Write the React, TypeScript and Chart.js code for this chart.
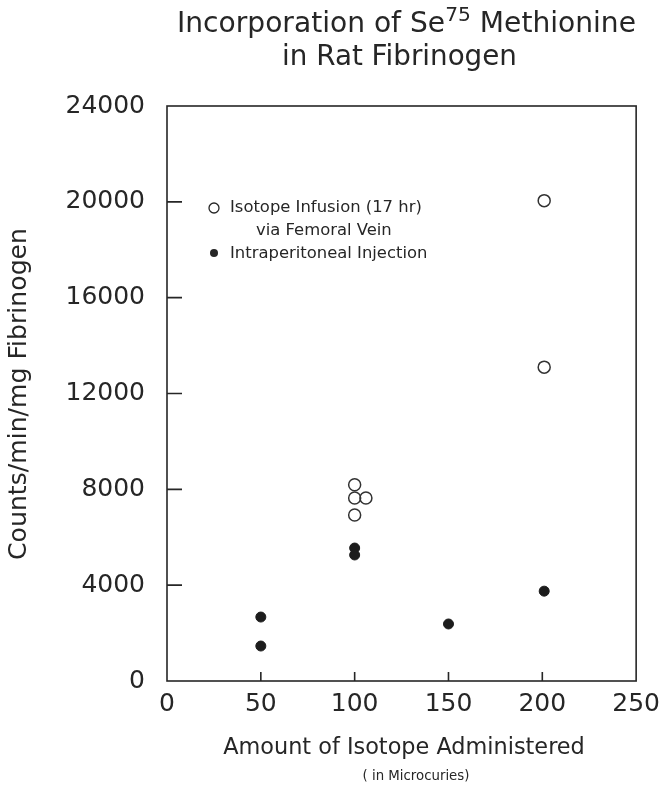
import React, { useEffect, useRef } from 'react';
import { Chart, registerables } from 'chart.js';

Chart.register(...registerables);

// ---- data ----
const infusionX = [100, 100, 106, 100, 201, 201];
const infusionY = [8190, 7640, 7640, 6930, 20050, 13100];
const injectionX = [50, 50, 100, 100, 150, 201];
const injectionY = [2670, 1460, 5550, 5260, 2380, 3750];
const xTicks = [0, 50, 100, 150, 200, 250];
const yTicks = [0, 4000, 8000, 12000, 16000, 20000, 24000];
const yTickLabels = ['0', '4000', '8000', '12000', '16000', '20000', '24000'];
const titleLine1 = ['Incorporation of Se', '75', ' Methionine'];
const titleLine2 = 'in Rat Fibrinogen';
const legendInfusion = ['Isotope Infusion (17 hr)', 'via Femoral Vein'];
const legendInjection = 'Intraperitoneal Injection';
const yTitle = 'Counts/min/mg Fibrinogen';
const xTitle = 'Amount of Isotope Administered';
const xSubTitle = '( in Microcuries)';

const FONT = '"DejaVu Sans", sans-serif';
const INK = '#262626';

function fitSize(ctx: CanvasRenderingContext2D, text: string, target: number) {
  ctx.font = `100px ${FONT}`;
  return (100 * target) / ctx.measureText(text).width;
}

const decor = {
  id: 'decor',
  afterDraw(chart: any) {
    const ctx: CanvasRenderingContext2D = chart.ctx;
    const { left, right, top, bottom } = chart.chartArea;
    const xs = chart.scales.x;
    const ys = chart.scales.y;
    ctx.save();
    ctx.strokeStyle = INK;
    ctx.fillStyle = INK;
    ctx.lineWidth = 1.6;
    ctx.strokeRect(left, top, right - left, bottom - top);
    ctx.beginPath();
    yTicks.slice(1, -1).forEach((v) => {
      const y = ys.getPixelForValue(v);
      ctx.moveTo(left, y);
      ctx.lineTo(left + 15, y);
    });
    xTicks.slice(1, -1).forEach((v) => {
      const x = xs.getPixelForValue(v);
      ctx.moveTo(x, bottom);
      ctx.lineTo(x, bottom - 9);
    });
    ctx.stroke();

    // title
    ctx.textBaseline = 'alphabetic';
    ctx.textAlign = 'left';
    ctx.font = `100px ${FONT}`;
    const w0 = ctx.measureText(titleLine1[0]).width;
    const w1 = ctx.measureText(titleLine1[1]).width * 0.72;
    const w2 = ctx.measureText(titleLine1[2]).width;
    const s1 = (100 * 459) / (w0 + w1 + w2);
    let x = 406.5 - 459 / 2;
    ctx.font = `${s1}px ${FONT}`;
    ctx.fillText(titleLine1[0], x, 32);
    x += (w0 * s1) / 100;
    ctx.font = `${s1 * 0.72}px ${FONT}`;
    ctx.fillText(titleLine1[1], x, 21);
    x += (w1 * s1) / 100;
    ctx.font = `${s1}px ${FONT}`;
    ctx.fillText(titleLine1[2], x, 32);
    const s2 = fitSize(ctx, titleLine2, 235);
    ctx.font = `${s2}px ${FONT}`;
    ctx.textAlign = 'center';
    ctx.fillText(titleLine2, 399.5, 65);

    // legend
    ctx.lineWidth = 1.3;
    ctx.beginPath();
    ctx.arc(214, 208, 5, 0, Math.PI * 2);
    ctx.stroke();
    ctx.beginPath();
    ctx.arc(214, 253, 4, 0, Math.PI * 2);
    ctx.fill();
    ctx.textAlign = 'left';
    ctx.textBaseline = 'middle';
    const ls = fitSize(ctx, legendInfusion[0], 192);
    ctx.font = `${ls}px ${FONT}`;
    ctx.fillText(legendInfusion[0], 230, 208);
    ctx.fillText(legendInfusion[1], 256, 231);
    ctx.fillText(legendInjection, 230, 254);

    // axis titles
    const ys1 = fitSize(ctx, yTitle, 332);
    ctx.font = `${ys1}px ${FONT}`;
    ctx.save();
    ctx.translate(19, 394);
    ctx.rotate(-Math.PI / 2);
    ctx.textAlign = 'center';
    ctx.fillText(yTitle, 0, 0);
    ctx.restore();
    ctx.textAlign = 'center';
    const xs1 = fitSize(ctx, xTitle, 362);
    ctx.font = `${xs1}px ${FONT}`;
    ctx.fillText(xTitle, 404, 748);
    const xs2 = fitSize(ctx, xSubTitle, 107);
    ctx.font = `${xs2}px ${FONT}`;
    ctx.fillText(xSubTitle, 416, 777);
    ctx.restore();
  },
};

export default function App() {
  const ref = useRef<HTMLCanvasElement>(null);
  useEffect(() => {
    if (!ref.current) return;
    const chart = new Chart(ref.current, {
      type: 'scatter',
      data: {
        datasets: [
          {
            label: legendInfusion.join(' '),
            data: infusionX.map((x, i) => ({ x, y: infusionY[i] })),
            pointStyle: 'circle',
            pointRadius: 6,
            pointBorderWidth: 1.5,
            pointBackgroundColor: 'rgba(255,255,255,0)',
            pointBorderColor: '#333',
          },
          {
            label: legendInjection,
            data: injectionX.map((x, i) => ({ x, y: injectionY[i] })),
            pointStyle: 'circle',
            pointRadius: 5,
            pointBorderWidth: 1,
            pointBackgroundColor: '#1c1c1c',
            pointBorderColor: '#1c1c1c',
          },
        ],
      },
      options: {
        animation: false,
        responsive: false,
        devicePixelRatio: 1,
        layout: { padding: { top: 106, right: 27, left: 0, bottom: 0 } },
        plugins: { legend: { display: false }, title: { display: false }, tooltip: { enabled: false } },
        scales: {
          x: {
            type: 'linear',
            min: 0,
            max: 250,
            afterBuildTicks: (s: any) => { s.ticks = xTicks.map((v) => ({ value: v })); },
            afterFit: (s: any) => { s.height = 105; },
            grid: { display: false, drawTicks: false },
            border: { display: false },
            ticks: { font: { family: FONT, size: 25 }, color: INK, padding: 8, maxRotation: 0 },
          },
          y: {
            type: 'linear',
            min: 0,
            max: 24000,
            afterBuildTicks: (s: any) => { s.ticks = yTicks.map((v) => ({ value: v })); },
            afterFit: (s: any) => { s.width = 167; },
            grid: { display: false, drawTicks: false },
            border: { display: false },
            ticks: {
              font: { family: FONT, size: 25 },
              color: INK,
              padding: 22,
              callback: (v: any) => yTickLabels[yTicks.indexOf(Number(v))] ?? '',
            },
          },
        },
      },
      plugins: [decor],
    });
    return () => chart.destroy();
  }, []);
  return (
    <div style={{ position: 'absolute', left: 0, top: 0, width: 668, height: 786, background: '#fff' }}>
      <canvas ref={ref} width={668} height={786} style={{ display: 'block' }} />
    </div>
  );
}
